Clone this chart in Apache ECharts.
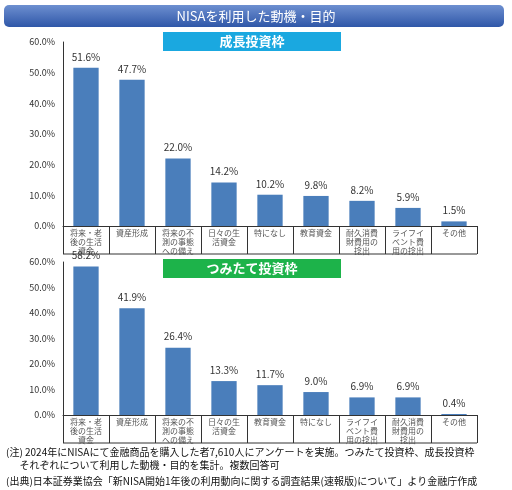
<!DOCTYPE html>
<html>
<head>
<meta charset="utf-8">
<script src="https://cdn.jsdelivr.net/npm/echarts@6/dist/echarts.min.js"></script>
<style>html,body{margin:0;background:#fff}#c{width:512px;height:490px}</style>
</head>
<body>
<div id="c"></div>
<script>
var growthCats = ['将来・老\n後の生活\n資金', '資産形成', '将来の不\n測の事態\nへの備え', '日々の生\n活資金', '特になし', '教育資金', '耐久消費\n財費用の\n捻出', 'ライフイ\nベント費\n用の捻出', 'その他'];
var growthVals = [51.6, 47.7, 22.0, 14.2, 10.2, 9.8, 8.2, 5.9, 1.5];
var tsumiCats = ['将来・老\n後の生活\n資金', '資産形成', '将来の不\n測の事態\nへの備え', '日々の生\n活資金', '教育資金', '特になし', 'ライフイ\nベント費\n用の捻出', '耐久消費\n財費用の\n捻出', 'その他'];
var tsumiVals = [58.2, 41.9, 26.4, 13.3, 11.7, 9.0, 6.9, 6.9, 0.4];
var yTicks = [0, 10, 20, 30, 40, 50, 60];

var chart = echarts.init(document.getElementById('c'));
var font = '"Noto Sans CJK JP", sans-serif';
function xAx(i, cats) {
  return {
    type: 'category', gridIndex: i, data: cats,
    axisLine: {lineStyle: {color: '#333'}},
    axisTick: {show: true, length: 28, interval: 0, lineStyle: {color: '#333'}},
    axisLabel: {interval: 0, fontSize: 8, color: '#555', lineHeight: 9, margin: 2, fontFamily: font, verticalAlign: 'top'}
  };
}
function yAx(i) {
  return {
    type: 'value', gridIndex: i, min: 0, max: 60, interval: 10,
    axisLine: {show: true, lineStyle: {color: '#333'}},
    axisTick: {show: false},
    splitLine: {show: false},
    axisLabel: {fontSize: 9, color: '#333', formatter: function (v) { return v.toFixed(1) + '%'; }}
  };
}
function ser(i, vals) {
  return {
    type: 'bar', xAxisIndex: i, yAxisIndex: i, data: vals, barWidth: '55%',
    itemStyle: {color: '#4a7ebb'},
    label: {show: true, position: 'top', fontSize: 10, color: '#333', distance: 6, formatter: function (p) { return p.value.toFixed(1) + '%'; }}
  };
}
chart.setOption({
  animation: false,
  textStyle: {fontFamily: font},
  grid: [
    {left: 63, right: 35, top: 42, height: 184},
    {left: 63, right: 35, top: 262, height: 153}
  ],
  xAxis: [xAx(0, growthCats), xAx(1, tsumiCats)],
  yAxis: [yAx(0), yAx(1)],
  series: [ser(0, growthVals), ser(1, tsumiVals)],
  graphic: [
    {type: 'rect', shape: {x: 4, y: 5, width: 500, height: 22, r: 5},
     style: {fill: {type: 'linear', x: 0, y: 0, x2: 0, y2: 1, colorStops: [{offset: 0, color: '#6d8fd0'}, {offset: 1, color: '#2f57a8'}]}}},
    {type: 'text', x: 256, y: 16, style: {text: 'NISAを利用した動機・目的', fill: '#fff', fontSize: 13, fontFamily: font, align: 'center', verticalAlign: 'middle'}},
    {type: 'rect', shape: {x: 163, y: 32, width: 178, height: 19}, style: {fill: '#1aa8e0'}},
    {type: 'text', x: 252, y: 41.5, style: {text: '成長投資枠', fill: '#fff', fontSize: 13, fontWeight: 'bold', fontFamily: font, align: 'center', verticalAlign: 'middle'}},
    {type: 'rect', shape: {x: 163, y: 259, width: 178, height: 19}, style: {fill: '#1db34a'}},
    {type: 'text', x: 252, y: 268.5, style: {text: 'つみたて投資枠', fill: '#fff', fontSize: 13, fontWeight: 'bold', fontFamily: font, align: 'center', verticalAlign: 'middle'}},
    {type: 'line', shape: {x1: 63, y1: 254, x2: 477, y2: 254}, style: {stroke: '#333'}},
    {type: 'line', shape: {x1: 63, y1: 443, x2: 477, y2: 443}, style: {stroke: '#333'}},
    {type: 'text', x: 6, y: 446, style: {text: '(注) 2024年にNISAにて金融商品を購入した者7,610人にアンケートを実施。つみたて投資枠、成長投資枠\n      それぞれについて利用した動機・目的を集計。複数回答可', fill: '#111', fontSize: 10, lineHeight: 13, fontFamily: font}},
    {type: 'text', x: 6, y: 476, style: {text: '(出典)日本証券業協会「新NISA開始1年後の利用動向に関する調査結果(速報版)について」より金融庁作成', fill: '#111', fontSize: 10, fontFamily: font}}
  ]
});
</script>
</body>
</html>
